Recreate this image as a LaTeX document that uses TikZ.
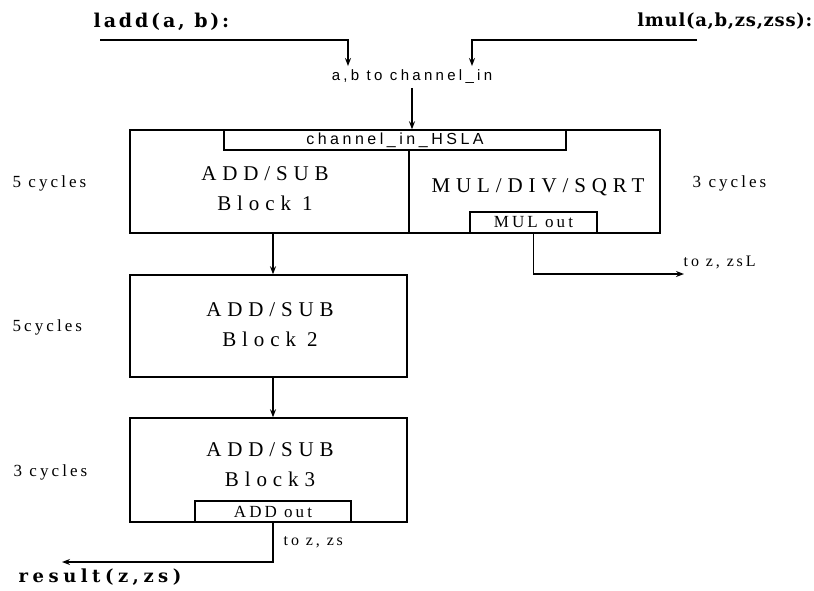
\documentclass[tikz,border=0pt]{standalone}
\usepackage{fontspec}
\setmainfont{Liberation Serif}[LetterSpace=18]
\setsansfont{Liberation Sans}[LetterSpace=22]
\newfontfamily\callfont{DejaVu Serif}
\usetikzlibrary{arrows.meta}
\newcommand{\fsz}[2]{\fontsize{#1}{#2}\selectfont}

\begin{document}
\begin{tikzpicture}[x=1pt,y=-1pt,line width=1.4pt,>={Stealth[length=8pt,width=6pt]},
	blk/.style={draw,inner sep=0pt},
	call/.style={font=\callfont\bfseries,inner sep=0pt},
	note/.style={font=\fsz{17}{19},anchor=west,inner sep=0pt},
	title/.style={font=\fsz{21}{30}\addfontfeature{LetterSpace=28},align=center},
	port/.style={font=\fsz{17}{19}}]
	\useasboundingbox (0,0) rectangle (814,590);
	% calls and channel
	\node[call,anchor=west] (ladd) at (93,22) {\fsz{19}{21}\addfontfeature{LetterSpace=15}ladd(a, b):};
	\node[call,anchor=east] (lmul) at (813,21) {\fsz{18}{20}\addfontfeature{LetterSpace=4}lmul(a,b,zs,zss):};
	\node[font=\sffamily\fsz{15}{17}] (abchan) at (412,77) {a,b to channel\_in};
	\coordinate (laddin) at (100,40);
	\coordinate (lmulin) at (697,40);
	\draw[->] (laddin) -| ([xshift=-64pt]abchan.north);
	\draw[->] (lmulin) -| ([xshift=60pt]abchan.north);
	% block 1
	\node[blk,minimum width=530pt,minimum height=103pt] (blockone) at (395,181.5) {};
	\node[blk,minimum width=342pt,minimum height=20pt,font=\sffamily\fsz{16}{18}] (chanin) at (395,140) {channel\_in\_HSLA};
	\draw[->] (abchan.south) -- (abchan.south |- blockone.north);
	\coordinate (divx) at (409,0);
	\draw (divx |- chanin.south) -- (divx |- blockone.south);
	\node[title] (addone) at (265,189) {ADD/SUB\\Block 1};
	\node[title] (muldiv) at (538,187) {MUL/DIV/SQRT};
	\node[blk,port,minimum width=127pt,minimum height=21pt] (mulout) at (533.5,222.5) {MUL out};
	% blocks 2 and 3
	\node[blk,minimum width=277pt,minimum height=102pt] (blocktwo) at (268.5,326) {};
	\node[title] (addtwo) at (270,324.5) {ADD/SUB\\Block 2};
	\node[blk,minimum width=277pt,minimum height=104pt] (blockthree) at (268.5,470) {};
	\node[title] (addthree) at (270,464.5) {ADD/SUB\\Block3};
	\node[blk,port,minimum width=156pt,minimum height=21pt] (addout) at (273,511.5) {ADD out};
	\coordinate (spine) at (273,0);
	\draw[->] (spine |- blockone.south) -- (spine |- blocktwo.north);
	\draw[->] (spine |- blocktwo.south) -- (spine |- blockthree.north);
	% results
	\coordinate (mulres) at (684,274);
	\draw[->] (mulout.south) |- (mulres);
	\node[note,font=\fsz{16}{18}] (tozzsl) at (683,262) {to z, zsL};
	\coordinate (addres) at (62,562);
	\draw[->] (addout.south) |- (addres);
	\node[note,font=\fsz{16}{18}] (tozzs) at (283,542) {to z, zs};
	\node[call,anchor=west] (result) at (18,577) {\fsz{18}{20}\addfontfeature{LetterSpace=25}result(z,zs)};
	% cycle counts
	\node[note] (cycone) at (12,183) {5 cycles};
	\node[note] (cycmul) at (692,183) {3 cycles};
	\node[note] (cyctwo) at (12,327) {5cycles};
	\node[note] (cycthree) at (13,472) {3 cycles};
\end{tikzpicture}
\end{document}
